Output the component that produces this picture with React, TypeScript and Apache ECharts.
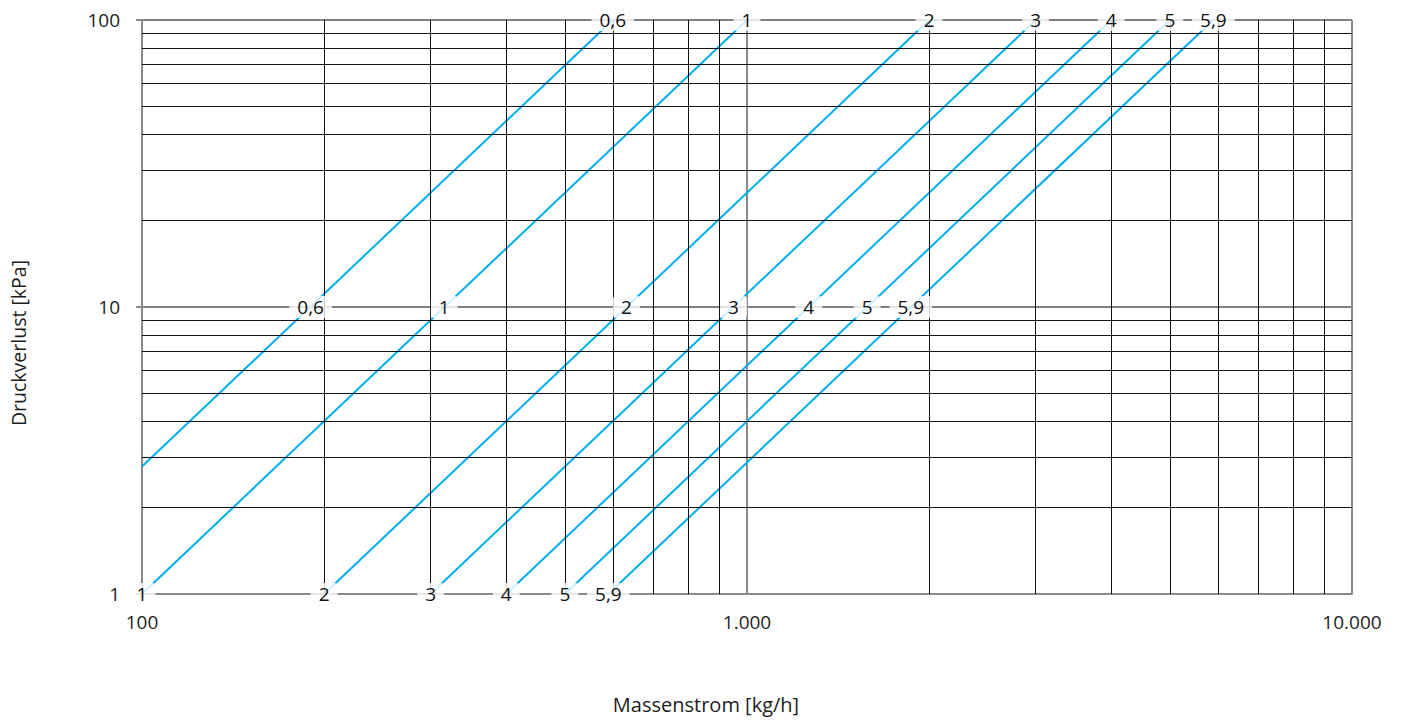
import React, { useEffect, useRef } from "react";
import * as echarts from "echarts";

// Kvs curves: names and endpoints [Massenstrom kg/h, Druckverlust kPa]
const kvsNames = ["0,6", "1", "2", "3", "4", "5", "5,9"];
const lineStart = [
  [100, 2.78],
  [100, 1],
  [200, 1],
  [300, 1],
  [400, 1],
  [500, 1],
  [590, 1],
];
const lineEnd = [
  [600, 100],
  [1000, 100],
  [2000, 100],
  [3000, 100],
  [4000, 100],
  [5000, 100],
  [5900, 100],
];
// label positions along each curve
const topLabelX = [600, 1000, 2000, 3000, 4000, 5000, 5900];
const midLabelX = [190, 316, 632, 950, 1265, 1580, 1865];
const bottomLabelX = [null, 100, 200, 300, 400, 500, 590];

// minor grid values
const minorX = [200, 300, 400, 500, 600, 700, 800, 900, 2000, 3000, 4000, 5000, 6000, 7000, 8000, 9000];
const minorY = [2, 3, 4, 5, 6, 7, 8, 9, 20, 30, 40, 50, 60, 70, 80, 90];

const xTitle = "Massenstrom [kg/h]";
const yTitle = "Druckverlust [kPa]";

const FONT = "'Open Sans', 'Noto Sans', sans-serif";
const TEXT = "#1e1e1e";
const BLUE = "#00AEEF";
const FRAME = "#8a8a8a";

export default function App() {
  const ref = useRef<HTMLDivElement>(null);

  useEffect(() => {
    if (!ref.current) return;
    const chart = echarts.init(ref.current, undefined, { renderer: "svg" });

    const labelData: any[] = [];
    kvsNames.forEach((n, i) => {
      labelData.push({ value: [topLabelX[i], 100], name: n });
      labelData.push({ value: [midLabelX[i], 10], name: n });
      if (bottomLabelX[i] != null) labelData.push({ value: [bottomLabelX[i], 1], name: n });
    });

    const lineSeries = kvsNames.map((n, i) => ({
      type: "line",
      name: n,
      data: [lineStart[i], lineEnd[i]],
      showSymbol: false,
      symbol: "none",
      lineStyle: { color: BLUE, width: 2 },
      z: 3,
      silent: true,
    }));

    chart.setOption({
      animation: false,
      textStyle: { fontFamily: FONT },
      grid: {
        left: 142,
        right: 51,
        top: 20,
        bottom: 126,
        containLabel: false,
        outerBoundsMode: "none",
      },
      xAxis: {
        type: "log",
        logBase: 10,
        min: 100,
        max: 10000,
        name: xTitle,
        nameLocation: "middle",
        nameGap: 100,
        nameTextStyle: {
          fontSize: 20,
          color: TEXT,
          fontFamily: FONT,
          padding: [0, 82, 0, 0],
        },
        axisLine: { show: true, lineStyle: { color: FRAME, width: 2 } },
        axisTick: { show: false },
        axisLabel: {
          fontSize: 19,
          color: TEXT,
          margin: 18,
          fontFamily: FONT,
          formatter: (v: number) => Math.round(v).toLocaleString("de-DE"),
        },
        splitLine: { show: true, lineStyle: { color: FRAME, width: 2 } },
        minorTick: { show: false },
        minorSplitLine: { show: false },
      },
      yAxis: {
        type: "log",
        logBase: 10,
        min: 1,
        max: 100,
        name: yTitle,
        nameLocation: "middle",
        nameGap: 114,
        nameRotate: 90,
        nameTextStyle: {
          fontSize: 19.5,
          color: TEXT,
          fontFamily: FONT,
          padding: [0, 72, 0, 0],
        },
        axisLine: { show: true, lineStyle: { color: FRAME, width: 2 } },
        axisTick: { show: true, length: 6, lineStyle: { color: FRAME, width: 2 } },
        axisLabel: {
          fontSize: 19,
          color: TEXT,
          margin: 22,
          fontFamily: FONT,
          formatter: (v: number) => String(Math.round(v)),
        },
        splitLine: { show: true, lineStyle: { color: "#555", width: 1.5 } },
        minorTick: { show: false },
        minorSplitLine: { show: false },
      },
      series: [
        {
          type: "line",
          data: [],
          z: 1,
          silent: true,
          markLine: {
            silent: true,
            symbol: ["none", "none"],
            animation: false,
            label: { show: false },
            lineStyle: { color: "#111", width: 1, type: "solid" },
            emphasis: { disabled: true },
            data: [
              ...minorX.map((x) => ({ xAxis: x })),
              ...minorY.map((y) => ({ yAxis: y })),
            ],
          },
        },
        ...lineSeries,
        {
          type: "scatter",
          data: labelData,
          symbol: "circle",
          symbolSize: 1,
          z: 5,
          silent: true,
          itemStyle: { color: "#fff", opacity: 1 },
          label: {
            show: true,
            position: "inside",
            formatter: (p: any) => p.name,
            fontSize: 19,
            color: "#111",
            opacity: 1,
            fontFamily: FONT,
            backgroundColor: "rgba(255,255,255,0.8)",
            padding: [2, 8, 1, 8],
            borderRadius: 3,
          },
        },
      ],
    });

    return () => chart.dispose();
  }, []);

  return (
    <div
      ref={ref}
      style={{ position: "fixed", left: 0, top: 0, width: 1403, height: 720, background: "#fff" }}
    />
  );
}
